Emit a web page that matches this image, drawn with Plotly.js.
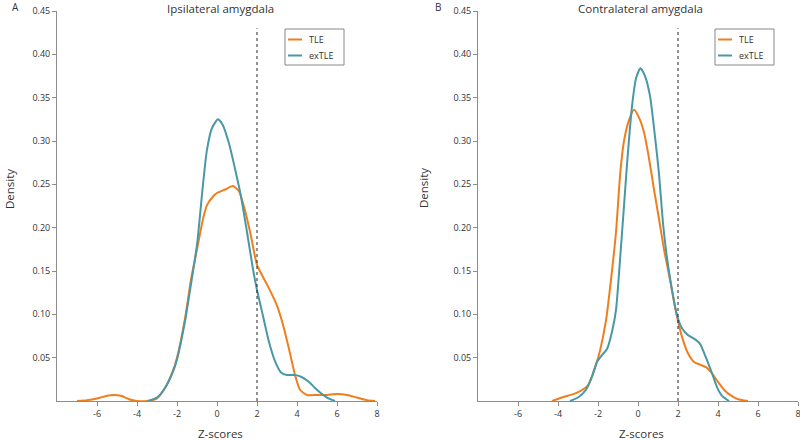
<!DOCTYPE html>
<html>
<head>
<meta charset="utf-8">
<script src="https://cdn.plot.ly/plotly-3.0.1.min.js"></script>
<style>html,body{margin:0;padding:0;background:#fff}#chart{width:800px;height:440px}</style>
</head>
<body>
<div id="chart"></div>
<script>
// ---- Data ----
const seriesNames = ["TLE", "exTLE"];
const threshold = 2;
const thresholdTop = 0.43;

// Panel A: Ipsilateral amygdala
const ipsiTLE_x = [-7.0,-6.5,-6.0,-5.5,-5.2,-4.8,-4.4,-4.0,-3.5,-3.0,-2.6,-2.2,-2.0,-1.6,-1.3,-1.0,-0.7,-0.5,-0.2,0.0,0.4,0.8,1.1,1.4,1.7,2.0,2.3,2.6,3.0,3.3,3.6,3.9,4.15,4.5,5.0,5.5,6.0,6.5,7.0,7.5,7.9];
const ipsiTLE_y = [0,0.001,0.003,0.006,0.007,0.006,0.002,0.0,0.0,0.003,0.015,0.035,0.050,0.095,0.140,0.175,0.210,0.226,0.236,0.240,0.244,0.248,0.242,0.220,0.190,0.157,0.143,0.130,0.110,0.088,0.060,0.030,0.013,0.007,0.007,0.007,0.008,0.007,0.004,0.001,0];
const ipsiEx_x = [-3.45,-3.0,-2.6,-2.2,-2.0,-1.6,-1.3,-1.0,-0.7,-0.5,-0.25,0.05,0.3,0.6,0.9,1.2,1.5,1.8,2.0,2.3,2.6,2.9,3.2,3.5,3.9,4.2,4.6,4.9,5.2,5.5,5.9];
const ipsiEx_y = [0,0.004,0.015,0.034,0.048,0.092,0.135,0.180,0.250,0.290,0.315,0.325,0.318,0.297,0.268,0.236,0.195,0.152,0.128,0.098,0.068,0.046,0.033,0.030,0.030,0.028,0.022,0.015,0.009,0.004,0];

// Panel B: Contralateral amygdala
const contraTLE_x = [-4.3,-3.8,-3.1,-2.5,-2.1,-1.9,-1.6,-1.35,-1.1,-0.88,-0.7,-0.45,-0.2,0.05,0.3,0.55,0.8,1.05,1.3,1.6,1.9,2.2,2.5,2.8,3.1,3.4,3.7,4.0,4.3,4.6,5.0,5.5];
const contraTLE_y = [0,0.004,0.009,0.018,0.042,0.058,0.093,0.140,0.195,0.265,0.300,0.324,0.336,0.327,0.310,0.280,0.244,0.210,0.175,0.140,0.103,0.074,0.055,0.045,0.042,0.039,0.032,0.022,0.013,0.007,0.002,0];
const contraEx_x = [-3.4,-3.0,-2.6,-2.3,-2.05,-1.8,-1.55,-1.3,-1.1,-0.88,-0.7,-0.55,-0.3,-0.1,0.12,0.35,0.6,0.85,1.05,1.25,1.45,1.7,1.95,2.2,2.5,2.8,3.1,3.4,3.7,3.95,4.2,4.55];
const contraEx_y = [0,0.004,0.013,0.028,0.045,0.053,0.060,0.080,0.105,0.169,0.225,0.273,0.340,0.372,0.384,0.375,0.352,0.305,0.262,0.205,0.165,0.128,0.099,0.084,0.076,0.072,0.066,0.050,0.032,0.016,0.006,0];

const xTicks = [-6,-4,-2,0,2,4,6,8];
const yTicks = [0.05,0.10,0.15,0.20,0.25,0.30,0.35,0.40,0.45];
const yTickText = yTicks.map(v => v.toFixed(2));
const panelTitles = ["Ipsilateral amygdala", "Contralateral amygdala"];
const panelLetters = ["A", "B"];
const xTitle = "Z-scores";
const yTitle = "Density";

// ---- Styles ----
const ORANGE = "#EF7F1E";
const TEAL = "#4A97A6";
const FONT = "Open Sans, sans-serif";
const TXT = "#333333";
const AX = "#8c8c8c";
const W = 800, H = 440, MT = 11, MB = 39;
const PY = py => (H - MB - py) / (H - MT - MB);   // page pixel y -> paper y
const PX = px => px / W;                          // page pixel x -> paper x

function curve(x, y, name, color, xa, ya) {
  return {x, y, name, type: "scatter", mode: "lines", xaxis: xa, yaxis: ya,
    showlegend: false, line: {color, width: 2, shape: "spline", smoothing: 0.6}, hoverinfo: "x+y"};
}
function thresh(xa, ya) {
  return {x: [threshold, threshold], y: [0, thresholdTop], type: "scatter", mode: "lines",
    xaxis: xa, yaxis: ya, showlegend: false, line: {color: "#222", width: 1, dash: "dot"}, hoverinfo: "skip"};
}

const data = [
  curve(ipsiTLE_x, ipsiTLE_y, seriesNames[0], ORANGE, "x", "y"),
  curve(ipsiEx_x, ipsiEx_y, seriesNames[1], TEAL, "x", "y"),
  thresh("x", "y"),
  curve(contraTLE_x, contraTLE_y, seriesNames[0], ORANGE, "x2", "y2"),
  curve(contraEx_x, contraEx_y, seriesNames[1], TEAL, "x2", "y2"),
  thresh("x2", "y2")
];

function xaxis(domain, anchor) {
  return {domain, anchor, range: [-8, 8], tickvals: xTicks, ticktext: xTicks.map(String),
    showgrid: false, zeroline: false, showline: true, linecolor: AX, linewidth: 1,
    ticks: "outside", ticklen: 4, tickcolor: AX, ticklabeloverflow: "allow",
    tickfont: {family: FONT, size: 9, color: TXT}};
}
function yaxis(anchor) {
  return {domain: [0, 1], anchor, range: [0, 0.45], tickvals: yTicks, ticktext: yTickText,
    showgrid: false, zeroline: false, showline: true, linecolor: AX, linewidth: 1,
    ticks: "outside", ticklen: 4, tickcolor: AX, ticklabeloverflow: "allow",
    tickfont: {family: FONT, size: 9, color: TXT}};
}

function ann(text, px, py, opts) {
  return Object.assign({text, x: PX(px), y: PY(py), xref: "paper", yref: "paper", showarrow: false,
    font: {family: FONT, size: 11, color: TXT}, xanchor: "center", yanchor: "middle", borderpad: 0}, opts || {});
}

// custom legend (box, line samples, labels) for each panel
const shapes = [], annotations = [];
function legendAt(left) {
  shapes.push({type: "rect", xref: "paper", yref: "paper", x0: PX(left), x1: PX(left + 59),
    y0: PY(65), y1: PY(29), line: {color: "#888", width: 1}, fillcolor: "#fff", layer: "above"});
  const colors = [ORANGE, TEAL], rows = [39.5, 55.5];
  seriesNames.forEach((nm, i) => {
    shapes.push({type: "line", xref: "paper", yref: "paper", x0: PX(left + 3), x1: PX(left + 17),
      y0: PY(rows[i]), y1: PY(rows[i]), line: {color: colors[i], width: 2}, layer: "above"});
    annotations.push(ann(nm, left + 23, rows[i], {xanchor: "left", font: {family: FONT, size: 9, color: TXT}}));
  });
}
legendAt(285);
legendAt(715);

annotations.push(
  ann(panelTitles[0], 220, 8, {font: {family: FONT, size: 11.5, color: TXT}}),
  ann(panelTitles[1], 640, 8, {font: {family: FONT, size: 11.5, color: TXT}}),
  ann(panelLetters[0], 15, 7, {font: {family: FONT, size: 10, color: TXT}}),
  ann(panelLetters[1], 438, 7, {font: {family: FONT, size: 10, color: TXT}}),
  ann(yTitle, 9, 189, {textangle: -90, font: {family: FONT, size: 11.5, color: TXT}}),
  ann(yTitle, 423, 188, {textangle: -90, font: {family: FONT, size: 11.5, color: TXT}}),
  ann(xTitle, 220, 433, {font: {family: FONT, size: 11.5, color: TXT}}),
  ann(xTitle, 641, 433, {font: {family: FONT, size: 11.5, color: TXT}})
);

const layout = {
  width: W, height: H,
  margin: {l: 0, r: 0, t: MT, b: MB, pad: 0},
  paper_bgcolor: "#fff", plot_bgcolor: "#fff",
  font: {family: FONT, color: TXT},
  showlegend: false,
  xaxis: xaxis([PX(57), PX(377)], "y"),
  yaxis: yaxis("x"),
  xaxis2: xaxis([PX(478), PX(798)], "y2"),
  yaxis2: yaxis("x2"),
  shapes, annotations
};

Plotly.newPlot("chart", data, layout, {displayModeBar: false, staticPlot: true});
</script>
</body>
</html>
